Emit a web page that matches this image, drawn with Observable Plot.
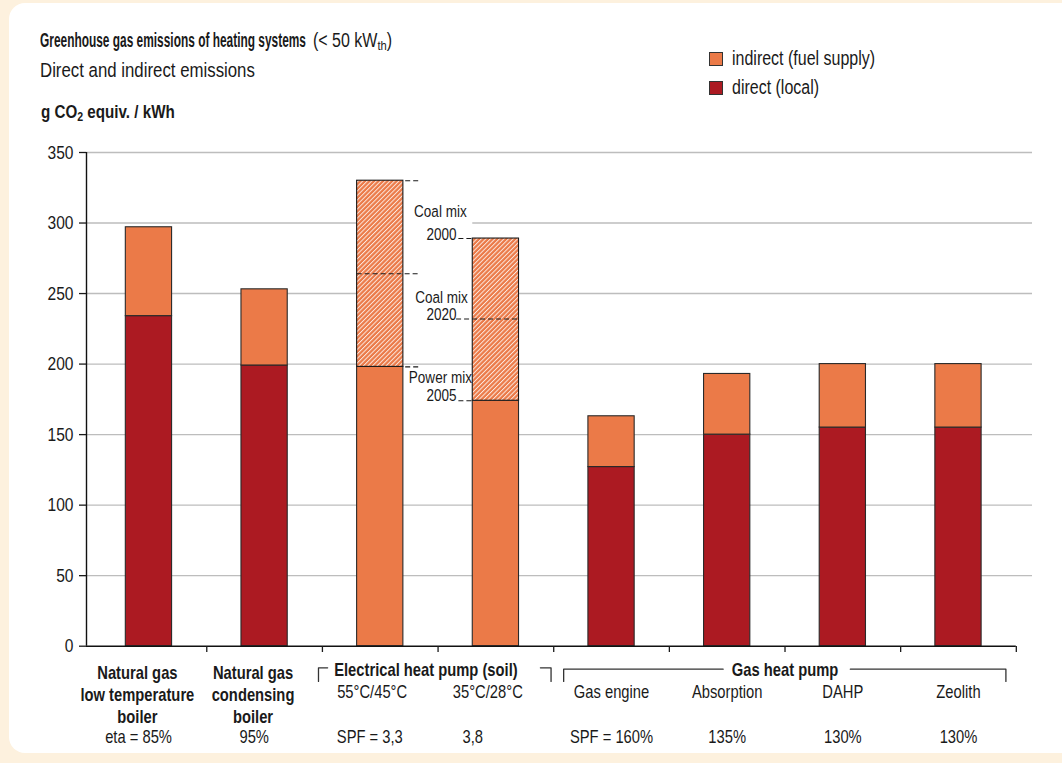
<!DOCTYPE html>
<html>
<head>
<meta charset="utf-8">
<script src="https://cdn.jsdelivr.net/npm/d3@7"></script>
<script src="https://cdn.jsdelivr.net/npm/@observablehq/plot@0.6"></script>
<style>
  html, body { margin: 0; padding: 0; }
  body { width: 1062px; height: 763px; overflow: hidden; position: relative; background: #fdf1de;
         font-family: "Liberation Sans", Arial, sans-serif; color: #1a1a1a; }
  #card { position: absolute; left: 9px; top: 3px; width: 1080px; height: 750px; background: #fff; border-radius: 16px; }
  .abs { position: absolute; line-height: 1; white-space: nowrap; }
  .n { display: inline-block; transform: scaleX(0.82); transform-origin: 0 50%; }
  #tmain { left: 40px; top: 30.5px; font-size: 19.5px; font-weight: bold; transform-origin: 0 0; display: inline-block; }
  #tsub { left: 313px; top: 31px; font-size: 19.5px; }
  #subtitle { left: 40px; top: 60px; font-size: 20.5px; }
  #ylabel { left: 41px; top: 102.5px; font-size: 18.5px; font-weight: bold; }
  sub { font-size: 0.7em; vertical-align: -0.25em; line-height: 0; }
  .leg { left: 709px; font-size: 19.5px; display: flex; align-items: center; }
  .sw { width: 14px; height: 14px; border: 1px solid #333; margin-right: 9px; box-sizing: border-box; }
  #chart { position: absolute; left: 0; top: 0; }
</style>
</head>
<body>
<div id="card"></div>
<div class="abs" id="tmain">Greenhouse gas emissions of heating systems</div>
<div class="abs" id="tsub"><span class="n">(&lt; 50 kW<sub>th</sub>)</span></div>
<div class="abs" id="subtitle"><span class="n">Direct and indirect emissions</span></div>
<div class="abs" id="ylabel"><span class="n">g CO<sub>2</sub> equiv. / kWh</span></div>
<div id="legend"></div>
<div id="chart"></div>
<script>
// ---------------- data ----------------
const categories = [
  "Natural gas low temperature boiler",
  "Natural gas condensing boiler",
  "Electrical heat pump 55°C/45°C",
  "Electrical heat pump 35°C/28°C",
  "Gas engine",
  "Absorption",
  "DAHP",
  "Zeolith"
];
const mainLabels = ["Natural gas\nlow temperature\nboiler", "Natural gas\ncondensing\nboiler", null, null, null, null, null, null];
const subLabels = [null, null, "55°C/45°C", "35°C/28°C", "Gas engine", "Absorption", "DAHP", "Zeolith"];
const efficiencyLabels = ["eta = 85%", "95%", "SPF = 3,3", "3,8", "SPF = 160%", "135%", "130%", "130%"];

// g CO2 equiv. / kWh
const direct   = [234, 199, 0, 0, 127, 150, 155, 155];
const indirect = [63, 54, 198, 174, 36, 43, 45, 45];          // power mix 2005 for electric heat pumps
const coalMix2000 = [null, null, 330, 289, null, null, null, null];
const coalMix2020 = [null, null, 264, 232, null, null, null, null];

const groupNames = ["Electrical heat pump (soil)", "Gas heat pump"];
const groupFirst = [2, 4];
const groupLast  = [3, 7];

const yTicks = [0, 50, 100, 150, 200, 250, 300, 350];
const seriesNames = ["indirect (fuel supply)", "direct (local)"];
const seriesColors = ["#eb7a48", "#ac1a22"];

// -------------- layout helpers --------------
const ORANGE = seriesColors[0], RED = seriesColors[1];
const FONT = '"Liberation Sans", Arial, sans-serif';
const NARROW = 0.82;
const xDomain = [-0.54, 7.64];
const half = 0.2; // half bar width in category units

const rows = categories.map((c, i) => ({
  i, c, direct: direct[i], indirect: indirect[i],
  base: direct[i] + indirect[i], c2000: coalMix2000[i], c2020: coalMix2020[i],
  main: mainLabels[i], sub: subLabels[i], eff: efficiencyLabels[i]
}));
const elec = rows.filter(d => d.c2000 != null);
const side = d => (d.i < 2.5 ? 1 : -1);            // annotation column lies between the two bars
const outer = d => d.i + side(d) * half;           // bar edge facing the annotations
const ext = d => d.i + side(d) * (half + 0.14);    // end of the leader dashes

const annoNames = [
  {text: "Coal mix", x: 2.52, y: 308},
  {text: "Coal mix", x: 2.53, y: 247},
  {text: "Power mix", x: 2.52, y: 190.5}
];
const annoYears = [
  {text: "2000", x: 2.66, y: 292},
  {text: "2020", x: 2.66, y: 235},
  {text: "2005", x: 2.66, y: 177.5}
];

// brackets below the axis (y in chart units under zero)
const bracketTop = -15.3, bracketBottom = -25;
const brackets = [
  [{x: 1.466, y: bracketBottom}, {x: 1.466, y: bracketTop}, {x: 1.545, y: bracketTop}],
  [{x: 3.385, y: bracketTop}, {x: 3.477, y: bracketTop}, {x: 3.477, y: bracketBottom}],
  [{x: 3.586, y: bracketBottom}, {x: 3.586, y: bracketTop - 1}, {x: 4.965, y: bracketTop - 1}],
  [{x: 6.065, y: bracketTop - 1}, {x: 7.41, y: bracketTop - 1}, {x: 7.41, y: bracketBottom}]
];
const groupRows = groupNames.map((g, k) => ({g, x: k === 0 ? 2.395 : (groupFirst[k] + groupLast[k]) / 2}));
const boundaries = categories.map((c, i) => i + 0.5);
const labelShift = d => (d.i < 2 ? -0.1 : d.i < 4 ? -0.07 : 0);
const effShift = d => (d.i === 3 ? -0.2 : d.i < 4 ? -0.09 : 0);

const plot = Plot.plot({
  width: 1062,
  height: 763,
  marginTop: 152,
  marginBottom: 117,
  marginLeft: 86,
  marginRight: 30,
  style: {fontFamily: FONT, fontSize: "18px", color: "#1a1a1a", background: "transparent", overflow: "visible"},
  x: {type: "linear", domain: xDomain, range: [86, 1032]},
  y: {domain: [0, 350], range: [645.7, 152]},
  marks: [
    // horizontal grid
    Plot.ruleY(yTicks.filter(d => d > 0), {stroke: "#bdbdbd", strokeWidth: 1.4}),
    // white box behind the annotation column
    Plot.rect([0], {x1: () => 2 + half, x2: () => 3 - half, y1: () => 205, y2: () => 318, fill: "white"}),
    // direct
    Plot.rect(rows.filter(d => d.direct > 0), {x1: d => d.i - half, x2: d => d.i + half, y1: () => 0, y2: "direct",
      fill: RED, stroke: "#2a2a2a", strokeWidth: 1.1}),
    // indirect
    Plot.rect(rows, {x1: d => d.i - half, x2: d => d.i + half, y1: "direct", y2: "base",
      fill: ORANGE, stroke: "#2a2a2a", strokeWidth: 1.1}),
    // hatched range up to coal mix 2000
    Plot.rect(elec, {x1: d => d.i - half, x2: d => d.i + half, y1: "base", y2: "c2000",
      fill: "url(#hatch)", stroke: "#1a1a1a", strokeWidth: 1.1}),
    // coal mix 2020 dashed line across bar and leader
    Plot.ruleY(elec, {y: "c2020", x1: d => (side(d) > 0 ? d.i - half : ext(d)), x2: d => (side(d) > 0 ? ext(d) : d.i + half),
      stroke: "#1a1a1a", strokeWidth: 1.1, strokeDasharray: "5,3"}),
    // leader dashes at coal mix 2000 and power mix 2005
    Plot.ruleY(elec, {y: "c2000", x1: d => Math.min(outer(d), ext(d)) + 0.02, x2: d => Math.max(outer(d), ext(d)),
      stroke: "#1a1a1a", strokeWidth: 1.1, strokeDasharray: "5,3"}),
    Plot.ruleY(elec, {y: "base", x1: d => Math.min(outer(d), ext(d)) + 0.02, x2: d => Math.max(outer(d), ext(d)),
      stroke: "#1a1a1a", strokeWidth: 1.1, strokeDasharray: "5,3"}),
    Plot.text(annoNames, {x: "x", y: "y", text: "text", textAnchor: "middle", fontSize: 16.5, lineAnchor: "middle", fill: "#1a1a1a"}),
    Plot.text(annoYears, {x: "x", y: "y", text: "text", textAnchor: "end", fontSize: 16.5, lineAnchor: "middle", fill: "#1a1a1a"}),
    // axes
    Plot.ruleX([xDomain[0]], {y1: 0, y2: 350, stroke: "#111", strokeWidth: 1.4}),
    Plot.axisY(yTicks, {tickSize: 7, tickPadding: 6, fontSize: 19, label: null, strokeWidth: 1.3}),
    Plot.ruleY([0], {x1: xDomain[0], x2: boundaries[boundaries.length - 1], stroke: "#111", strokeWidth: 1.4}),
    Plot.axisX(boundaries, {tickSize: 6, tickFormat: () => "", label: null, strokeWidth: 1.3}),
    // category labels
    Plot.text(rows.filter(d => d.main), {x: d => d.i + labelShift(d), y: () => 0, text: "main", fontWeight: "bold", fontSize: 18,
      lineAnchor: "top", lineHeight: 1.22, dy: 17}),
    Plot.text(rows.filter(d => d.sub), {x: d => d.i + labelShift(d), y: () => 0, text: "sub", fontSize: 18, lineAnchor: "top", dy: 39.5}),
    Plot.text(rows, {x: d => d.i + effShift(d), y: () => 0, text: "eff", fontSize: 18, lineAnchor: "top", dy: 84.5}),
    Plot.text(groupRows, {x: "x", y: () => 0, text: "g", fontWeight: "bold", fontSize: 18, lineAnchor: "top", dy: 17.5}),
    ...brackets.map(b => Plot.line(b, {x: "x", y: "y", stroke: "#333", strokeWidth: 1.3}))
  ]
});

// hatch pattern
const svg = d3.select(plot);
const defs = svg.insert("defs", ":first-child");
const P = 3.2;
const pat = defs.append("pattern").attr("id", "hatch").attr("patternUnits", "userSpaceOnUse")
  .attr("width", P).attr("height", P).attr("patternTransform", "rotate(45)");
pat.append("rect").attr("width", P).attr("height", P).attr("fill", ORANGE);
pat.append("line").attr("x1", 0.5).attr("y1", 0).attr("x2", 0.5).attr("y2", P)
  .attr("stroke", "#fff").attr("stroke-opacity", 0.9).attr("stroke-width", 0.9);

// narrow (condensed) rendering of all svg texts around their anchor
svg.selectAll("text").each(function() {
  const t = this.getAttribute("transform");
  if (t) this.setAttribute("transform", `${t} scale(${NARROW},1)`);
  else {
    const x = +this.getAttribute("x") || 0;
    this.setAttribute("transform", `translate(${x},0) scale(${NARROW},1) translate(${-x},0)`);
  }
});

document.getElementById("chart").appendChild(plot);

// legend
const legend = document.getElementById("legend");
seriesNames.forEach((name, k) => {
  const item = document.createElement("div");
  item.className = "abs leg";
  item.style.top = (k === 0 ? 49 : 78) + "px";
  const sw = document.createElement("span");
  sw.className = "sw";
  sw.style.background = seriesColors[k];
  const tx = document.createElement("span");
  tx.className = "n";
  tx.textContent = name;
  item.appendChild(sw); item.appendChild(tx);
  legend.appendChild(item);
});

// condense the title to the reference width
const tm = document.getElementById("tmain");
const w = tm.getBoundingClientRect().width;
tm.style.transform = `scaleX(${Math.min(1, 266 / w)})`;
</script>
</body>
</html>
